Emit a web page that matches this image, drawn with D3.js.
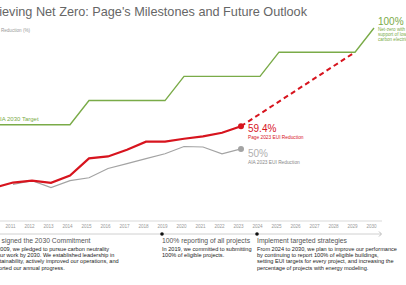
<!DOCTYPE html>
<html>
<head>
<meta charset="utf-8">
<script src="https://cdn.jsdelivr.net/npm/d3@7"></script>
<style>
body { margin: 0; background: #fff; }
svg { display: block; font-family: "Liberation Sans", Arial, sans-serif; }
.light { font-family: "Liberation Sans", Arial, sans-serif; font-weight: 300; }
</style>
</head>
<body>
<div id="chart"></div>
<script>
const W = 406, H = 285

// data
const axisYears = [2010, 2011, 2012, 2013, 2014, 2015, 2016, 2017, 2018, 2019, 2020,
  2021, 2022, 2023, 2024, 2025, 2026, 2027, 2028, 2029, 2030]
const pageYears = [2010, 2011, 2012, 2013, 2014, 2015, 2016, 2017, 2018, 2019, 2020, 2021, 2022, 2023]
const pageEUI = [34.0, 36.1, 36.9, 36.0, 39.0, 46.1, 46.9, 49.7, 53.0, 53.0, 54.2, 55.2, 56.7, 59.4]
const aiaYears = [2011, 2012, 2013, 2014, 2015, 2016, 2017, 2018, 2019, 2020, 2021, 2022, 2023]
const aiaEUI = [35.3, 36.9, 34.0, 36.9, 38.1, 41.9, 43.9, 46.0, 48.0, 51.0, 50.8, 48.0, 50.0]
const targetYears = [2010, 2014, 2015, 2019, 2020, 2024, 2025, 2029, 2030]
const targetValues = [60, 60, 70, 70, 80, 80, 90, 90, 100]
const projYears = [2023, 2029]
const projValues = [59.4, 90]

const milestoneYears = [2010, 2019, 2024]
const milestoneTitles = ['Co signed the 2030 Commitment', '100% reporting of all projects', 'Implement targeted strategies']
const milestoneText = [
  ['In 2009, we pledged to pursue carbon neutrality', 'in our work by 2030. We established leadership in',
   'sustainability, actively improved our operations, and', 'reported our annual progress.'],
  ['In 2019, we committed to submitting', '100% of eligible projects.'],
  ['From 2024 to 2030, we plan to improve our performance', 'by continuing to report 100% of eligible buildings,',
   'setting EUI targets for every project, and increasing the', 'percentage of projects with energy modeling.']
]

const red = '#d7141e', gray = '#a3a3a3', green = '#7aab48'

const svg = d3.select('#chart').append('svg')
  .attr('width', W)
  .attr('height', H)

const x = d3.scaleLinear().domain([2010, 2030]).range([-6, 374])
const xt = x.copy().range([-9, 371])   // axis + timeline sit a little left of the lines
const y = d3.scaleLinear().domain([20, 100]).range([221.5, 28])

// title
svg.append('text')
  .attr('class', 'light')
  .attr('x', 307)
  .attr('y', 16)
  .attr('text-anchor', 'end')
  .attr('font-size', '12.7px')
  .attr('fill', '#666')
  .text("Achieving Net Zero: Page's Milestones and Future Outlook")

svg.append('text')
  .attr('x', xt(2010) + 1)
  .attr('y', 31.5)
  .attr('font-size', '4.6px')
  .attr('fill', '#999')
  .text('EUI Reduction (%)')

// x axis
const axisY = 221
svg.append('line')
  .attr('x1', xt(2010)).attr('x2', xt(2030) + 11)
  .attr('y1', axisY).attr('y2', axisY)
  .attr('stroke', '#e6e6e6')
  .attr('stroke-width', 1.5)

const xAxis = svg.append('g')
  .attr('transform', 'translate(0,' + axisY + ')')
  .call(d3.axisBottom(xt).tickValues(axisYears).tickFormat(d3.format('d')).tickSize(0).tickPadding(4))
xAxis.select('.domain').remove()
xAxis.selectAll('text')
  .attr('font-size', '4.6px')
  .attr('fill', '#999')
  .attr('font-family', '"Liberation Sans", Arial, sans-serif')

// lines
const line = d3.line().x(d => x(d[0])).y(d => y(d[1]))

svg.append('path')
  .datum(targetYears.map((d, i) => [d, targetValues[i]]))
  .attr('d', line)
  .attr('fill', 'none')
  .attr('stroke', green)
  .attr('stroke-width', 1.4)

svg.append('path')
  .datum(aiaYears.map((d, i) => [d, aiaEUI[i]]))
  .attr('d', line)
  .attr('fill', 'none')
  .attr('stroke', gray)
  .attr('stroke-width', 1.2)

svg.append('path')
  .datum(projYears.map((d, i) => [d, projValues[i]]))
  .attr('d', line)
  .attr('fill', 'none')
  .attr('stroke', red)
  .attr('stroke-width', 2)
  .attr('stroke-dasharray', '5,3.5')

svg.append('path')
  .datum(pageYears.map((d, i) => [d, pageEUI[i]]))
  .attr('d', line)
  .attr('fill', 'none')
  .attr('stroke', red)
  .attr('stroke-width', 2.2)

// end dots
const last = pageYears.length - 1
svg.append('circle')
  .attr('cx', x(pageYears[last])).attr('cy', y(pageEUI[last]))
  .attr('r', 3).attr('fill', red)
const lastA = aiaYears.length - 1
svg.append('circle')
  .attr('cx', x(aiaYears[lastA])).attr('cy', y(aiaEUI[lastA]))
  .attr('r', 3).attr('fill', gray)

// labels
const lx = x(2023) + 7
svg.append('text')
  .attr('x', lx).attr('y', y(pageEUI[last]) + 5.5)
  .attr('font-size', '10px').attr('fill', red)
  .text(pageEUI[last] + '%')
svg.append('text')
  .attr('x', lx).attr('y', y(pageEUI[last]) + 13)
  .attr('font-size', '4.8px').attr('fill', red)
  .text('Page 2023 EUI Reduction')

svg.append('text')
  .attr('class', 'light')
  .attr('x', lx).attr('y', y(aiaEUI[lastA]) + 8)
  .attr('font-size', '10px').attr('fill', '#b0b0b0')
  .text(aiaEUI[lastA] + '%')
svg.append('text')
  .attr('x', lx).attr('y', y(aiaEUI[lastA]) + 15.5)
  .attr('font-size', '4.8px').attr('fill', '#888')
  .text('AIA 2023 EUI Reduction')

svg.append('text')
  .attr('x', x(2010) + 2).attr('y', y(60) - 3.5)
  .attr('font-size', '6px').attr('fill', green)
  .text('AIA 2030 Target')

svg.append('text')
  .attr('class', 'light')
  .attr('x', x(2030) + 4).attr('y', y(100) - 3)
  .attr('font-size', '10px').attr('fill', green)
  .text('100%')
const netZero = ['Net-zero with', 'support of low-', 'carbon electricity']
svg.append('text')
  .attr('font-size', '4.6px').attr('fill', green)
  .selectAll('tspan')
  .data(netZero)
  .join('tspan')
  .attr('x', x(2030) + 4)
  .attr('y', (d, i) => y(100) + 3 + i * 5)
  .text(d => d)

// timeline
const tlY = 234
svg.append('line')
  .attr('x1', xt(2010)).attr('x2', xt(2030) + 10)
  .attr('y1', tlY).attr('y2', tlY)
  .attr('stroke', '#c4c4c4')
  .attr('stroke-width', 0.8)
svg.append('path')
  .attr('d', 'M' + (xt(2030) + 8) + ',' + (tlY - 2.5) + 'l2.5,2.5l-2.5,2.5')
  .attr('fill', 'none')
  .attr('stroke', '#aaa')
  .attr('stroke-width', 0.8)

milestoneYears.forEach((yr, i) => {
  const mx = xt(yr)
  svg.append('circle')
    .attr('cx', mx).attr('cy', tlY)
    .attr('r', 1.8).attr('fill', '#111')

  svg.append('text')
    .attr('class', 'light')
    .attr('x', mx).attr('y', tlY + 9)
    .attr('font-size', '6.8px')
    .attr('fill', '#555')
    .text(milestoneTitles[i])

  svg.append('text')
    .attr('font-size', '5.6px')
    .attr('fill', '#222')
    .selectAll('tspan')
    .data(milestoneText[i])
    .join('tspan')
    .attr('x', mx)
    .attr('y', (d, j) => tlY + 16.5 + j * 6.4)
    .text(d => d)
})
</script>
</body>
</html>
